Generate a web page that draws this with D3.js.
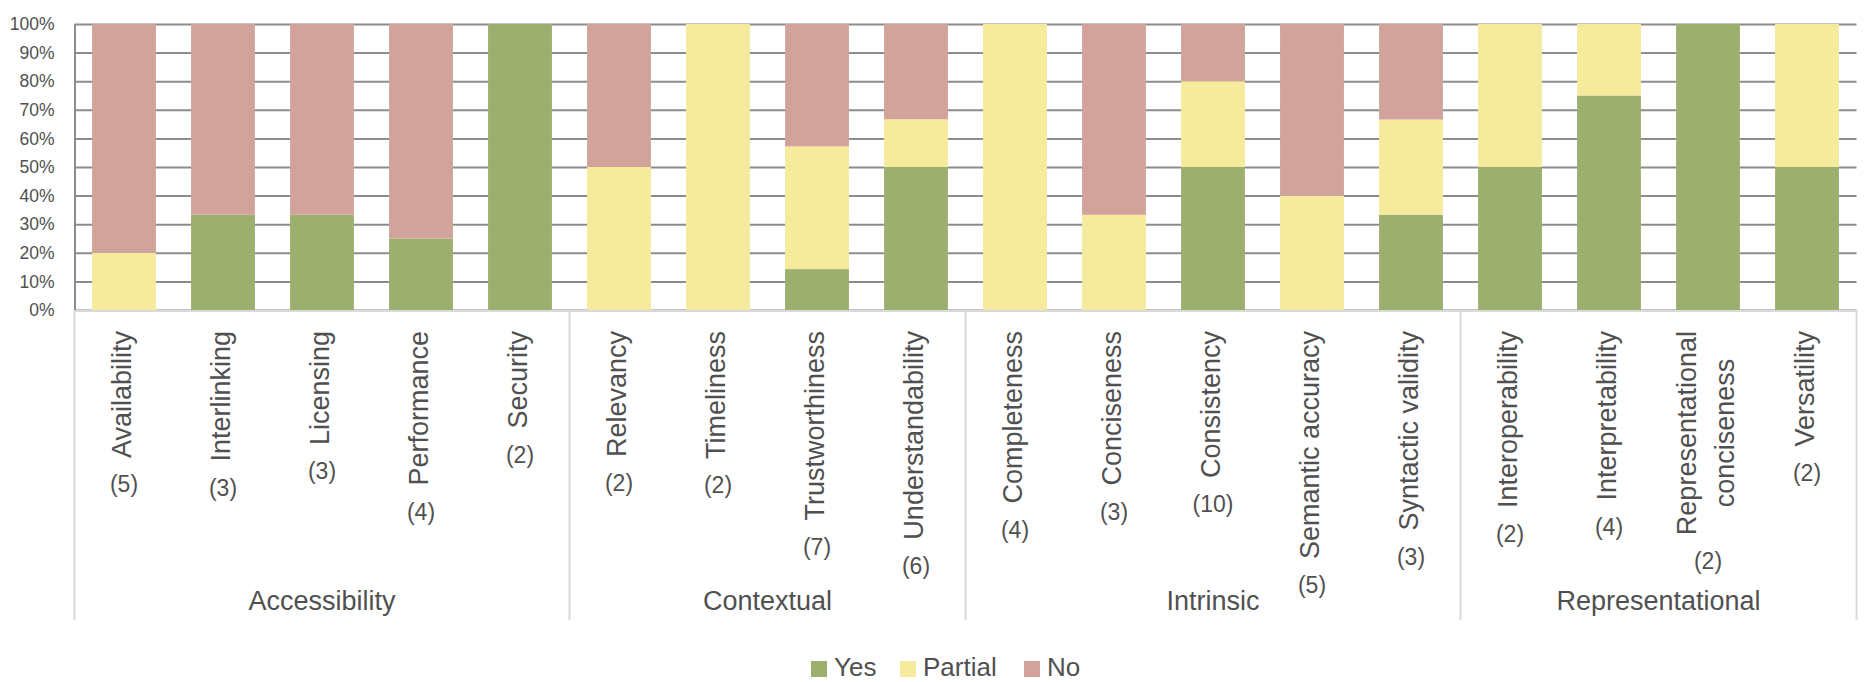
<!DOCTYPE html>
<html>
<head>
<meta charset="utf-8">
<script src="https://cdn.jsdelivr.net/npm/d3@7"></script>
<style>
  html, body { margin: 0; padding: 0; background: #ffffff; }
  svg { display: block; font-family: "Liberation Sans", Arial, sans-serif; }
</style>
</head>
<body>
<svg id="chart" width="1868" height="682"></svg>
<script>
// ---------------- data ----------------
const categories = [
  "Availability", "Interlinking", "Licensing", "Performance", "Security",
  "Relevancy", "Timeliness", "Trustworthiness", "Understandability",
  "Completeness", "Conciseness", "Consistency", "Semantic accuracy", "Syntactic validity",
  "Interoperability", "Interpretability", "Representational conciseness", "Versatility"
];
const counts = [5, 3, 3, 4, 2, 2, 2, 7, 6, 4, 3, 10, 5, 3, 2, 4, 2, 2];
const groupNames = ["Accessibility", "Contextual", "Intrinsic", "Representational"];
const groupSizes = [5, 4, 5, 4];

const seriesNames = ["Yes", "Partial", "No"];
const yesPct     = [0, 33.3, 33.3, 25, 100, 0, 0, 14.3, 50, 0, 0, 50, 0, 33.3, 50, 75, 100, 50];
const partialPct = [20, 0, 0, 0, 0, 50, 100, 42.9, 16.7, 100, 33.3, 30, 40, 33.3, 50, 25, 0, 50];
const noPct      = [80, 66.7, 66.7, 75, 0, 50, 0, 42.8, 33.3, 0, 66.7, 20, 60, 33.4, 0, 0, 0, 0];
const seriesColors = ["#9CAF6E", "#F6EA9D", "#D1A39A"];

const yTicks = [0, 10, 20, 30, 40, 50, 60, 70, 80, 90, 100];

// ---------------- layout ----------------
const svg = d3.select("#chart");
const plotLeft = 74.5, plotRight = 1856.5, plotTop = 24, plotBottom = 310;
const axisBottomY = 311, sepBottom = 620;
const textColor = "#505050";
const gridColor = "#8c8c8c";
const lightLine = "#d9d9d9";

const x = d3.scaleBand()
  .domain(categories)
  .range([plotLeft, plotRight])
  .paddingInner(0.355)
  .paddingOuter(0.1775);

const y = d3.scaleLinear().domain([0, 100]).range([plotBottom, plotTop]);

const color = d3.scaleOrdinal().domain(seriesNames).range(seriesColors);

const rows = categories.map((c, i) => ({
  category: c, Yes: yesPct[i], Partial: partialPct[i], No: noPct[i]
}));
const stacked = d3.stack().keys(seriesNames)(rows);

// ---------------- y axis + gridlines ----------------
const yAxis = d3.axisLeft(y)
  .tickValues(yTicks)
  .tickFormat(d => d + "%")
  .tickSizeInner(-(plotRight - plotLeft))
  .tickSizeOuter(0)
  .tickPadding(20);

const yg = svg.append("g")
  .attr("transform", `translate(${plotLeft},0)`)
  .call(yAxis);
yg.select(".domain").attr("stroke", gridColor).attr("stroke-width", 2);
yg.selectAll(".tick line").attr("stroke", gridColor).attr("stroke-width", 2);
yg.selectAll(".tick text")
  .attr("fill", textColor)
  .style("font-size", "17.5px")
  .style("font-family", "'Liberation Sans', Arial, sans-serif");

// ---------------- bars ----------------
svg.append("g")
  .selectAll("g")
  .data(stacked)
  .join("g")
  .attr("fill", d => color(d.key))
  .selectAll("rect")
  .data(d => d)
  .join("rect")
  .attr("x", d => x(d.data.category))
  .attr("width", x.bandwidth())
  .attr("y", d => y(d[1]))
  .attr("height", d => Math.max(0, y(d[0]) - y(d[1])));

// ---------------- category axis (multi-level) ----------------
const axisG = svg.append("g");
axisG.append("line")
  .attr("x1", plotLeft - 1).attr("x2", plotRight + 1)
  .attr("y1", axisBottomY).attr("y2", axisBottomY)
  .attr("stroke", lightLine).attr("stroke-width", 2);

// group separators
const step = x.step();
let acc = 0;
const boundaries = [0];
groupSizes.forEach(s => { acc += s; boundaries.push(acc); });
boundaries.forEach(b => {
  const bx = plotLeft + b * step;
  axisG.append("line")
    .attr("x1", bx).attr("x2", bx)
    .attr("y1", axisBottomY).attr("y2", sepBottom)
    .attr("stroke", lightLine).attr("stroke-width", 2);
});

// group labels
groupNames.forEach((g, i) => {
  const cx = plotLeft + (boundaries[i] + boundaries[i + 1]) / 2 * step;
  axisG.append("text")
    .attr("x", cx).attr("y", 610)
    .attr("text-anchor", "middle")
    .attr("fill", textColor)
    .style("font-size", "27px")
    .text(g);
});

// category labels: rotated name + upright count
const nameTop = 331;
categories.forEach((c, i) => {
  const cx = x(c) + x.bandwidth() / 2;
  const lines = c.length > 20 ? [c.slice(0, c.lastIndexOf(" ")), c.slice(c.lastIndexOf(" ") + 1)] : [c];
  const lineGap = 38.5;
  const tg = axisG.append("g");
  let maxLen = 0;
  const texts = lines.map((ln, k) => {
    const off = (k - (lines.length - 1) / 2) * lineGap;
    const t = tg.append("text")
      .attr("transform", `translate(${cx + off},${nameTop}) rotate(-90)`)
      .attr("dy", "0.26em")
      .attr("fill", textColor)
      .style("font-size", "27px")
      .text(ln);
    const len = t.node().getComputedTextLength();
    maxLen = Math.max(maxLen, len);
    return { t, len };
  });
  // center shorter lines relative to the longest (top-aligned block)
  texts.forEach(({ t, len }) => {
    t.attr("text-anchor", "end")
     .attr("x", -(maxLen - len) / 2);
  });
  axisG.append("text")
    .attr("x", cx)
    .attr("y", nameTop + maxLen + 26)
    .attr("dy", "0.35em")
    .attr("text-anchor", "middle")
    .attr("fill", textColor)
    .style("font-size", "23px")
    .text("(" + counts[i] + ")");
});

// ---------------- legend ----------------
const legendX = [811, 900, 1024];
const legend = svg.append("g");
seriesNames.forEach((s, i) => {
  legend.append("rect")
    .attr("x", legendX[i]).attr("y", 661)
    .attr("width", 16).attr("height", 16)
    .attr("fill", color(s));
  legend.append("text")
    .attr("x", legendX[i] + 23).attr("y", 676)
    .attr("fill", textColor)
    .style("font-size", "26px")
    .text(s);
});
</script>
</body>
</html>
